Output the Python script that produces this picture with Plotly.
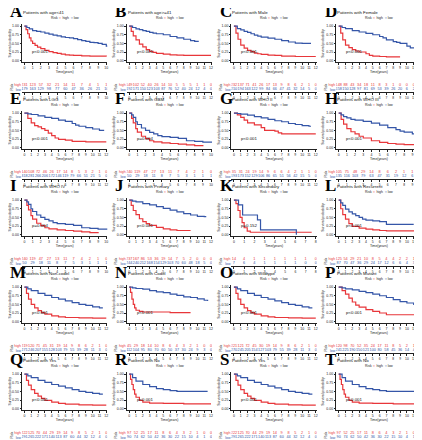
import plotly.graph_objects as go

W, H = 422, 440
COLW, ROWH = 105.0, 88
RED = "#E8363A"
BLUE = "#3556A8"
SANS = "Liberation Sans"

letters = list("ABCDEFGHIJKLMNOPQRST")
titles = ["Patients with age&lt;41", "Patients with age&gt;=41", "Patients with Male", "Patients with Female",
          "Patients with LGG", "Patients with GBM", "Patients with WHO II", "Patients with WHO III",
          "Patients with WHO IV", "Patients with Primary", "Patients with Secondary", "Patients with Recurrent",
          "Patients with Non-codel", "Patients with Codel", "Patients with Wildtype", "Patients with Mutant",
          "Patients with Yes", "Patients with No", "Patients with Yes", "Patients with No"]
xmax = [10, 12, 12, 12, 12, 10, 12, 10, 10, 12, 8, 12, 12, 12, 12, 12, 12, 12, 12, 12]
pvals = ["p&lt;0.001", "p&lt;0.001", "p&lt;0.001", "p&lt;0.001", "p&lt;0.001", "p=0.004", "p&lt;0.001",
         "p&lt;0.001", "p=0.004", "p&lt;0.001", "p=0.152", "p&lt;0.001", "p&lt;0.001", "p&lt;0.001",
         "p&lt;0.001", "p&lt;0.001", "p&lt;0.001", "p&lt;0.001", "p&lt;0.001", "p&lt;0.001"]

high_t = [
    [0, .2, .4, .6, .8, 1, 1.3, 1.6, 2, 2.5, 3, 3.5, 4, 4.5, 5, 5.5, 6, 7, 8, 9, 10],
    [0, .3, .6, 1, 1.5, 2, 2.5, 3, 3.5, 4, 5, 6, 7, 8, 10, 12],
    [0, .3, .6, 1, 1.5, 2, 2.5, 3, 3.5, 4, 5, 6, 7, 9, 12],
    [0, .3, .6, 1, 1.5, 2, 2.5, 3, 4, 4.5, 5, 6, 7, 9],
    [0, .5, 1, 1.5, 2, 2.5, 3, 3.5, 4, 4.5, 5, 6, 7, 9, 12],
    [0, .3, .5, .8, 1, 1.5, 2, 2.5, 3, 4, 5, 6, 7, 8, 9],
    [0, .5, 1, 1.5, 2, 3, 4, 4.5, 6, 6.5, 7, 12],
    [0, .3, .6, 1, 1.5, 2, 2.5, 3, 4, 5, 6, 7, 8, 10],
    [0, .3, .5, .8, 1, 1.5, 2, 2.5, 3, 4, 5, 6, 7, 8, 9],
    [0, .3, .6, 1, 1.5, 2, 2.5, 3, 4, 5, 6, 7, 8, 9],
    [0, .2, .4, .6, .8, 1, 1.3, 1.6, 7.6],
    [0, .3, .6, 1, 1.5, 2, 3, 4, 5, 6, 7, 9, 12],
    [0, .3, .6, 1, 1.5, 2, 2.5, 3, 4, 5, 6, 8, 10, 12],
    [0, .2, .4, .6, .8, 1, 1.5, 2, 4, 6, 9],
    [0, .3, .6, 1, 1.5, 2, 2.5, 3, 4, 5, 6, 8, 10, 12],
    [0, .5, 1, 1.5, 2, 2.5, 3, 4, 5, 6, 7, 9, 12],
    [0, .3, .6, 1, 1.5, 2, 2.5, 3, 4, 5, 6, 8, 10, 12],
    [0, .2, .4, .6, .8, 1, 1.5, 2, 3, 5, 8, 12],
    [0, .3, .6, 1, 1.5, 2, 2.5, 3, 4, 5, 6, 8, 10, 12],
    [0, .2, .4, .6, .8, 1, 1.5, 2, 3, 5, 8, 12],
]
high_s = [
    [1, .9, .78, .66, .57, .5, .44, .39, .35, .3, .26, .23, .21, .19, .17, .16, .15, .14, .13, .13, .12],
    [1, .85, .72, .6, .48, .4, .32, .27, .24, .21, .19, .17, .16, .15, .15, .15],
    [1, .8, .62, .45, .36, .3, .26, .22, .2, .18, .16, .15, .13, .12, .12],
    [1, .8, .6, .45, .38, .32, .28, .25, .2, .15, .13, .12, .11, .11],
    [1, .85, .72, .64, .6, .55, .5, .42, .35, .28, .24, .22, .18, .17, .17],
    [1, .85, .72, .55, .45, .33, .26, .2, .17, .14, .12, .1, .08, .06, .04],
    [1, .95, .88, .8, .72, .66, .58, .5, .48, .43, .4, .4],
    [1, .82, .68, .55, .46, .4, .33, .28, .2, .15, .12, .1, .09, .08],
    [1, .85, .72, .55, .45, .33, .26, .2, .17, .14, .12, .1, .08, .06, .04],
    [1, .85, .7, .58, .46, .38, .32, .27, .21, .17, .14, .12, .12, .12],
    [1, .9, .7, .5, .35, .2, .1, .07, .07],
    [1, .75, .58, .45, .32, .24, .19, .16, .14, .12, .11, .11, .11],
    [1, .82, .65, .5, .4, .32, .26, .22, .17, .14, .12, .11, .1, .1],
    [1, .85, .65, .5, .4, .33, .3, .28, .28, .26, .26],
    [1, .82, .65, .5, .4, .32, .26, .22, .17, .14, .12, .11, .1, .1],
    [1, .9, .8, .68, .57, .48, .42, .35, .3, .25, .2, .2, .2],
    [1, .82, .68, .55, .44, .36, .3, .24, .19, .15, .13, .11, .1, .1],
    [1, .85, .7, .55, .42, .33, .24, .19, .16, .15, .14, .14],
    [1, .82, .68, .55, .44, .36, .3, .24, .19, .15, .13, .11, .1, .1],
    [1, .85, .7, .55, .42, .33, .24, .19, .16, .15, .14, .14],
]
low_t = [
    [0, .3, .6, 1, 1.5, 2, 2.5, 3, 3.5, 4, 4.5, 5, 5.5, 6, 6.5, 7, 7.5, 8, 8.5, 9, 9.5, 10, 10.3],
    [0, .5, 1, 1.5, 2, 2.5, 3, 3.5, 4, 5, 6, 7, 8, 9, 9.6, 10.2],
    [0, .5, 1, 1.5, 2, 2.5, 3, 3.5, 4, 5, 6, 7, 8, 9, 10, 11.3],
    [0, .5, 1, 2, 3, 4, 5, 6, 6.5, 7, 8, 8.5, 9, 10, 10.5, 11.2],
    [0, .5, 1, 2, 3, 4, 5, 6, 7, 7.5, 8, 9, 10, 11, 11.6],
    [0, .3, .5, .8, 1, 1.5, 2, 2.5, 3, 3.5, 4, 5, 6, 7, 8, 9, 10.4],
    [0, .5, 1, 2, 3, 4, 5, 6, 7, 8, 9, 10, 11, 11.3],
    [0, .3, .6, 1, 1.5, 2, 3, 4, 5, 6, 7, 7.5, 8, 9, 9.5, 10, 10.3],
    [0, .3, .5, .8, 1, 1.5, 2, 2.5, 3, 3.5, 4, 5, 6, 7, 8, 9, 10.4],
    [0, .5, 1, 2, 3, 4, 5, 6, 7, 8, 9, 10, 11, 11.3],
    [0, .45, .85, 2.3, 2.6, 6.0, 6.1],
    [0, .3, .6, 1, 1.5, 2, 2.5, 3, 3.5, 4, 5, 6, 7, 8, 11],
    [0, .5, 1, 2, 3, 4, 5, 6, 7, 8, 9, 10, 11, 11.5],
    [0, .5, 1, 2, 3, 4, 5, 6, 7, 8, 9, 10, 11, 11.5],
    [0, .5, 1, 2, 3, 4, 5, 6, 7, 8, 9, 10, 11, 11.5],
    [0, .5, 1, 2, 3, 4, 5, 6, 7, 8, 9, 10, 11, 11.5],
    [0, .5, 1, 2, 3, 4, 5, 6, 7, 8, 9, 10, 11, 11.5],
    [0, .5, 1, 2, 3, 4, 5, 6, 7, 8, 9, 10, 11.5],
    [0, .5, 1, 2, 3, 4, 5, 6, 7, 8, 9, 10, 11, 11.5],
    [0, .5, 1, 2, 3, 4, 5, 6, 7, 8, 9, 10, 11.5],
]
low_s = [
    [1, .96, .92, .87, .85, .83, .8, .77, .74, .72, .69, .67, .66, .64, .61, .58, .56, .53, .52, .5, .47, .42, .38],
    [1, .96, .92, .9, .87, .85, .82, .8, .78, .75, .7, .66, .62, .58, .56, .56],
    [1, .93, .89, .85, .82, .78, .74, .71, .68, .65, .62, .58, .54, .51, .5, .5],
    [1, .96, .93, .87, .83, .79, .75, .7, .66, .6, .55, .53, .5, .42, .37, .35],
    [1, .98, .96, .92, .88, .85, .8, .76, .7, .65, .62, .58, .54, .5, .48],
    [1, .95, .88, .75, .67, .57, .5, .44, .4, .35, .32, .3, .27, .2, .18, .16, .16],
    [1, .99, .97, .94, .9, .86, .82, .78, .75, .7, .67, .64, .62, .62],
    [1, .95, .9, .86, .82, .8, .76, .71, .65, .58, .52, .48, .45, .4, .36, .3, .28],
    [1, .95, .88, .75, .67, .57, .5, .44, .4, .35, .32, .3, .27, .2, .18, .16, .16],
    [1, .97, .95, .9, .86, .81, .76, .71, .66, .61, .57, .53, .52, .52],
    [1, .86, .57, .43, .14, .14, 0],
    [1, .92, .85, .74, .66, .6, .55, .5, .45, .42, .4, .38, .3, .3, .3],
    [1, .95, .9, .82, .76, .7, .65, .6, .55, .5, .47, .43, .4, .4],
    [1, .98, .96, .94, .9, .86, .84, .8, .76, .72, .7, .66, .62, .6],
    [1, .95, .9, .82, .76, .7, .65, .6, .55, .5, .47, .43, .4, .4],
    [1, .98, .95, .92, .88, .84, .8, .75, .7, .64, .58, .54, .5, .5],
    [1, .95, .9, .82, .76, .7, .65, .6, .55, .5, .47, .44, .42, .42],
    [1, .9, .8, .7, .64, .58, .55, .52, .5, .5, .5, .5, .5],
    [1, .95, .9, .82, .76, .7, .65, .6, .55, .5, .47, .44, .42, .42],
    [1, .9, .8, .7, .64, .58, .55, .52, .5, .5, .5, .5, .5],
]
risk_high = [
    [231, 123, 57, 32, 21, 14, 11, 7, 4, 1, 1],
    [149, 102, 52, 40, 26, 14, 10, 5, 5, 5, 1, 1, 0],
    [232, 137, 71, 41, 26, 17, 13, 9, 8, 6, 2, 1, 0],
    [148, 88, 43, 34, 18, 11, 8, 3, 1, 0, 0, 0, 0],
    [140, 108, 72, 46, 26, 17, 14, 8, 5, 3, 2, 1, 0],
    [240, 119, 47, 27, 13, 11, 7, 4, 2, 1, 0],
    [35, 31, 24, 19, 14, 9, 6, 6, 4, 2, 1, 1, 0],
    [105, 75, 48, 29, 14, 8, 6, 2, 1, 1, 1],
    [240, 119, 47, 27, 13, 11, 7, 4, 2, 1, 0],
    [237, 167, 86, 53, 36, 19, 14, 7, 5, 2, 0, 0, 0],
    [14, 4, 1, 1, 1, 1, 1, 1, 0],
    [125, 54, 29, 21, 10, 8, 5, 4, 4, 2, 2, 1, 0],
    [219, 120, 71, 45, 31, 19, 14, 9, 8, 6, 2, 1, 0],
    [45, 29, 18, 14, 10, 8, 6, 4, 3, 2, 1, 0, 0],
    [221, 121, 72, 45, 30, 19, 14, 9, 8, 6, 2, 1, 0],
    [120, 98, 70, 52, 35, 24, 17, 11, 8, 5, 2, 1, 0],
    [222, 125, 70, 44, 29, 19, 14, 9, 8, 5, 2, 1, 0],
    [97, 52, 25, 17, 11, 8, 6, 4, 3, 2, 1, 0, 0],
    [222, 125, 70, 44, 29, 19, 14, 9, 8, 5, 2, 1, 0],
    [97, 52, 25, 17, 11, 8, 6, 4, 3, 2, 1, 0, 0],
]
risk_low = [
    [179, 163, 129, 98, 77, 60, 47, 36, 26, 21, 10],
    [192, 171, 150, 123, 103, 87, 76, 52, 40, 24, 12, 4, 0],
    [210, 194, 163, 122, 99, 84, 66, 47, 41, 32, 14, 5, 0],
    [158, 150, 128, 97, 81, 69, 53, 39, 26, 20, 6, 2, 0],
    [318, 281, 266, 206, 172, 146, 119, 79, 66, 51, 21, 5, 0],
    [50, 29, 18, 11, 8, 7, 5, 3, 1, 1, 1],
    [193, 173, 152, 129, 106, 86, 65, 51, 56, 42, 15, 5, 0],
    [135, 116, 103, 79, 63, 47, 31, 19, 12, 6, 4],
    [50, 29, 18, 11, 8, 7, 5, 3, 1, 1, 1],
    [244, 240, 212, 168, 154, 129, 103, 70, 60, 48, 18, 5, 0],
    [7, 6, 4, 1, 1, 1, 1, 0, 0],
    [87, 70, 47, 36, 29, 24, 17, 12, 6, 6, 4, 3, 0],
    [271, 246, 207, 155, 128, 103, 79, 55, 39, 28, 11, 3, 0],
    [112, 104, 95, 80, 70, 60, 50, 37, 30, 24, 9, 3, 0],
    [270, 245, 205, 154, 127, 103, 79, 55, 39, 28, 11, 3, 0],
    [241, 225, 190, 150, 121, 100, 80, 58, 45, 36, 14, 4, 0],
    [291, 265, 222, 171, 140, 113, 87, 60, 44, 32, 12, 4, 0],
    [90, 74, 62, 50, 42, 36, 30, 22, 15, 10, 4, 1, 0],
    [291, 265, 222, 171, 140, 113, 87, 60, 44, 32, 12, 4, 0],
    [90, 74, 62, 50, 42, 36, 30, 22, 15, 10, 4, 1, 0],
]

# ---------------- layout helpers (pixel geometry) ----------------
def fx(px):
    return px / W

def fy(py):
    return 1 - py / H

fig = go.Figure()
layout = dict(width=W, height=H, margin=dict(l=0, r=0, t=0, b=0),
              paper_bgcolor="white", plot_bgcolor="white", showlegend=False,
              font=dict(family=SANS, color="#222"))
annotations = []
AX = dict(showgrid=False, zeroline=False, showline=True, linecolor="#222", linewidth=0.7,
          ticks="outside", ticklen=1.5, tickwidth=0.6, tickcolor="#222",
          tickfont=dict(family=SANS, size=3.5, color="#222"), fixedrange=True)

for i in range(20):
    r, c = divmod(i, 4)
    x0 = c * COLW
    y0 = r * ROWH
    X = xmax[i]
    pa = 2 * i + 1
    ta = 2 * i + 2
    pn = "" if pa == 1 else str(pa)
    tn = str(ta)
    xr = [-0.03 * X, X * 1.012]

    layout["xaxis" + pn] = dict(AX, domain=[fx(x0 + 14), fx(x0 + 99.5)], range=xr, anchor="y" + pn,
                                tickvals=list(range(0, X + 1)),
                                title=dict(text="Time(years)", font=dict(family=SANS, size=3.4), standoff=1.2))
    layout["yaxis" + pn] = dict(AX, domain=[fy(y0 + 55), fy(y0 + 16.6)], range=[-0.05, 1.05], anchor="x" + pn,
                                tickvals=[0, .25, .5, .75, 1], ticktext=["0.00", "0.25", "0.50", "0.75", "1.00"],
                                title=dict(text="Survival probability", font=dict(family=SANS, size=3.4),
                                           standoff=1.2))
    layout["xaxis" + tn] = dict(AX, domain=[fx(x0 + 14), fx(x0 + 99.5)], range=xr, anchor="y" + tn,
                                tickvals=list(range(0, X + 1)), tickfont=dict(family=SANS, size=3.3, color="#222"))
    layout["yaxis" + tn] = dict(AX, domain=[fy(y0 + 85.3), fy(y0 + 74.8)], range=[-0.6, 1.6], anchor="x" + tn,
                                showline=False, ticks="", tickvals=[0, 1],
                                ticktext=["<span style='color:%s'>low</span>" % BLUE,
                                          "<span style='color:%s'>high</span>" % RED],
                                title=dict(text="Risk", font=dict(family=SANS, size=3.4), standoff=1))

    fig.add_trace(go.Scatter(x=high_t[i], y=high_s[i], mode="lines", line=dict(color=RED, width=1.2, shape="hv"),
                             xaxis="x" + pn, yaxis="y" + pn))
    fig.add_trace(go.Scatter(x=low_t[i], y=low_s[i], mode="lines", line=dict(color=BLUE, width=1.2, shape="hv"),
                             xaxis="x" + pn, yaxis="y" + pn))
    fig.add_trace(go.Scatter(x=list(range(len(risk_high[i]))), y=[1] * len(risk_high[i]), mode="text",
                             text=[str(v) for v in risk_high[i]], textfont=dict(family=SANS, size=3.8, color=RED),
                             xaxis="x" + tn, yaxis="y" + tn))
    fig.add_trace(go.Scatter(x=list(range(len(risk_low[i]))), y=[0] * len(risk_low[i]), mode="text",
                             text=[str(v) for v in risk_low[i]], textfont=dict(family=SANS, size=3.8, color=BLUE),
                             xaxis="x" + tn, yaxis="y" + tn))

    annotations.append(dict(text="<b>%s</b>" % letters[i], x=fx(x0 + 0.3), y=fy(y0 + 3.5), xref="paper",
                            yref="paper", xanchor="left", yanchor="middle", showarrow=False,
                            font=dict(family="Liberation Serif", size=17, color="black")))
    annotations.append(dict(text=titles[i], x=fx(x0 + 13), y=fy(y0 + 4.5), xref="paper", yref="paper",
                            xanchor="left", yanchor="middle", showarrow=False,
                            font=dict(family=SANS, size=4.4, color="#111")))
    annotations.append(dict(text="Risk  <span style='color:%s'>━</span> high  <span style='color:%s'>━</span> low"
                            % (RED, BLUE), x=fx(x0 + 57), y=fy(y0 + 10.5), xref="paper", yref="paper",
                            xanchor="center", yanchor="middle", showarrow=False,
                            font=dict(family=SANS, size=3.4, color="#222")))
    annotations.append(dict(text=pvals[i], x=fx(x0 + 22), y=fy(y0 + 44.5), xref="paper", yref="paper",
                            xanchor="left", yanchor="middle", showarrow=False,
                            font=dict(family=SANS, size=4.4, color="#111")))

layout["annotations"] = annotations
fig.update_layout(**layout)
fig.write_html("out.html")
